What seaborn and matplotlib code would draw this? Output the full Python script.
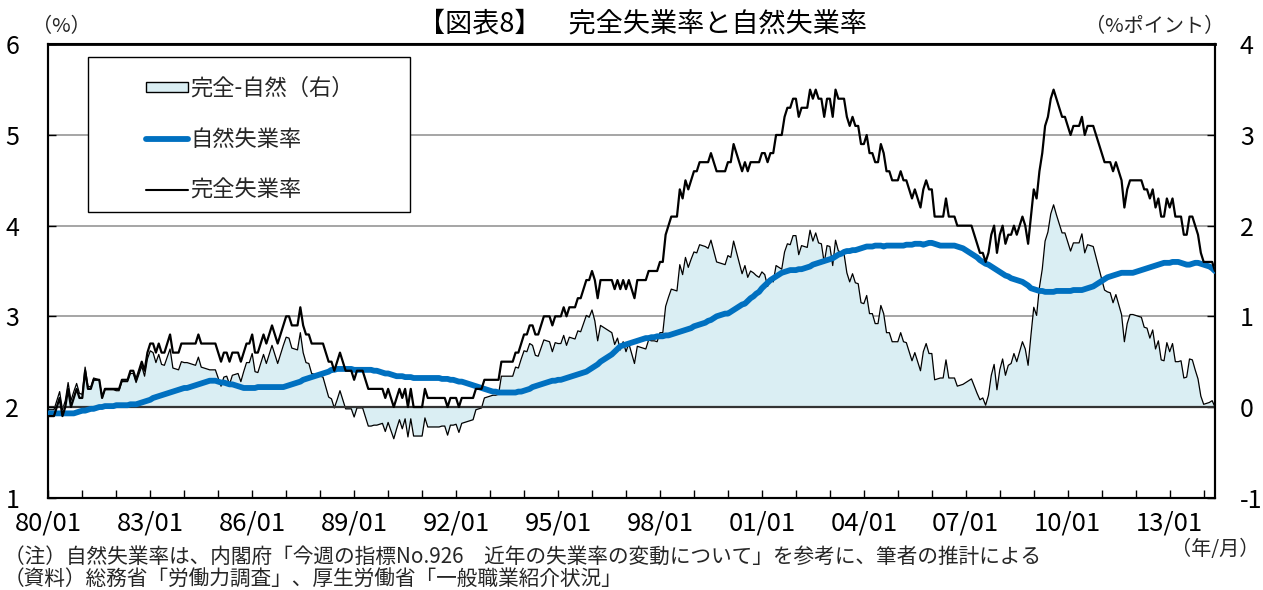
import numpy as np
import pandas as pd
import matplotlib
matplotlib.use("Agg")
import matplotlib.pyplot as plt
import seaborn as sns
from matplotlib.patches import Patch, Rectangle
from matplotlib.lines import Line2D

# ---------------- data (monthly, 1980/01 - 2014/05) ----------------
unemp_1980s = [
    1.9, 1.9, 1.9, 2.0, 2.1, 1.9, 2.0, 2.2, 2.0, 2.1, 2.2, 2.1,   # 1980
    2.1, 2.4, 2.2, 2.2, 2.3, 2.3, 2.3, 2.1, 2.2, 2.2, 2.2, 2.2,   # 1981
    2.2, 2.2, 2.3, 2.3, 2.3, 2.4, 2.4, 2.3, 2.4, 2.5, 2.4, 2.6,   # 1982
    2.7, 2.7, 2.6, 2.7, 2.6, 2.6, 2.7, 2.8, 2.6, 2.6, 2.6, 2.7,   # 1983
    2.7, 2.7, 2.7, 2.7, 2.7, 2.8, 2.7, 2.7, 2.7, 2.7, 2.7, 2.7,   # 1984
    2.6, 2.5, 2.6, 2.6, 2.5, 2.6, 2.6, 2.6, 2.5, 2.6, 2.7, 2.7,   # 1985
    2.8, 2.6, 2.6, 2.7, 2.8, 2.7, 2.8, 2.9, 2.8, 2.7, 2.8, 2.9,   # 1986
    3.0, 3.0, 2.9, 2.9, 2.9, 3.1, 2.9, 2.8, 2.8, 2.7, 2.7, 2.7,   # 1987
    2.7, 2.7, 2.6, 2.5, 2.5, 2.4, 2.5, 2.6, 2.5, 2.4, 2.4, 2.4,   # 1988
    2.3, 2.4, 2.4, 2.4, 2.3, 2.2, 2.2, 2.2, 2.2, 2.2, 2.2, 2.1,   # 1989
]
unemp_1990s = [
    2.2, 2.1, 2.0, 2.1, 2.2, 2.1, 2.2, 2.0, 2.2, 2.0, 2.0, 2.0,   # 1990
    2.0, 2.2, 2.1, 2.1, 2.1, 2.1, 2.1, 2.1, 2.1, 2.0, 2.1, 2.1,   # 1991
    2.1, 2.0, 2.1, 2.1, 2.1, 2.1, 2.1, 2.2, 2.2, 2.2, 2.3, 2.3,   # 1992
    2.3, 2.3, 2.3, 2.3, 2.5, 2.5, 2.5, 2.5, 2.5, 2.6, 2.6, 2.7,   # 1993
    2.8, 2.8, 2.9, 2.9, 2.8, 2.8, 2.9, 3.0, 3.0, 3.0, 2.9, 3.0,   # 1994
    3.0, 3.0, 3.1, 3.0, 3.1, 3.1, 3.1, 3.2, 3.2, 3.3, 3.4, 3.4,   # 1995
    3.5, 3.4, 3.2, 3.4, 3.4, 3.4, 3.4, 3.4, 3.3, 3.4, 3.3, 3.4,   # 1996
    3.3, 3.4, 3.3, 3.2, 3.4, 3.4, 3.4, 3.4, 3.5, 3.5, 3.5, 3.5,   # 1997
    3.6, 3.6, 3.9, 4.0, 4.1, 4.1, 4.1, 4.4, 4.3, 4.5, 4.4, 4.5,   # 1998
    4.6, 4.6, 4.7, 4.7, 4.7, 4.7, 4.8, 4.7, 4.6, 4.6, 4.6, 4.6,   # 1999
]
unemp_2000s = [
    4.7, 4.7, 4.9, 4.8, 4.7, 4.6, 4.7, 4.6, 4.7, 4.7, 4.7, 4.7,   # 2000
    4.8, 4.8, 4.7, 4.8, 4.8, 5.0, 5.0, 5.0, 5.2, 5.3, 5.3, 5.4,   # 2001
    5.4, 5.2, 5.3, 5.3, 5.3, 5.5, 5.4, 5.5, 5.4, 5.4, 5.2, 5.4,   # 2002
    5.4, 5.2, 5.5, 5.4, 5.4, 5.4, 5.2, 5.1, 5.2, 5.1, 5.1, 4.9,   # 2003
    4.9, 5.0, 4.8, 4.8, 4.7, 4.7, 4.9, 4.8, 4.6, 4.6, 4.5, 4.5,   # 2004
    4.5, 4.6, 4.5, 4.5, 4.4, 4.3, 4.4, 4.3, 4.2, 4.4, 4.5, 4.4,   # 2005
    4.4, 4.1, 4.1, 4.1, 4.1, 4.3, 4.1, 4.1, 4.1, 4.0, 4.0, 4.0,   # 2006
    4.0, 4.0, 4.0, 3.9, 3.8, 3.7, 3.7, 3.6, 3.7, 3.9, 4.0, 3.7,   # 2007
    3.9, 4.0, 3.8, 3.9, 3.9, 4.0, 3.9, 4.0, 4.1, 4.0, 3.8, 4.1,   # 2008
    4.4, 4.3, 4.6, 4.8, 5.1, 5.2, 5.4, 5.5, 5.4, 5.3, 5.2, 5.2,   # 2009
]
unemp_2010s = [
    5.1, 5.0, 5.1, 5.1, 5.1, 5.2, 5.0, 5.1, 5.1, 5.1, 5.0, 4.9,   # 2010
    4.8, 4.7, 4.7, 4.7, 4.6, 4.7, 4.6, 4.5, 4.2, 4.4, 4.5, 4.5,   # 2011
    4.5, 4.5, 4.5, 4.4, 4.4, 4.3, 4.4, 4.2, 4.3, 4.1, 4.1, 4.3,   # 2012
    4.2, 4.3, 4.1, 4.1, 4.1, 3.9, 3.9, 4.1, 4.1, 4.0, 3.9, 3.7,   # 2013
    3.6, 3.6, 3.6, 3.6, 3.5,                                      # 2014
]

natural_1980s = [
    1.93, 1.93, 1.93, 1.93, 1.93, 1.93, 1.93, 1.93, 1.93, 1.93, 1.94, 1.95,
    1.96, 1.96, 1.97, 1.98, 1.98, 1.99, 2.00, 2.00, 2.01, 2.01, 2.01, 2.01,
    2.02, 2.02, 2.02, 2.02, 2.02, 2.03, 2.03, 2.03, 2.04, 2.05, 2.06, 2.07,
    2.08, 2.10, 2.11, 2.12, 2.13, 2.14, 2.15, 2.16, 2.17, 2.18, 2.19, 2.20,
    2.21, 2.21, 2.22, 2.23, 2.24, 2.25, 2.26, 2.27, 2.28, 2.29, 2.29, 2.29,
    2.28, 2.27, 2.27, 2.26, 2.25, 2.25, 2.24, 2.23, 2.22, 2.21, 2.21, 2.21,
    2.21, 2.21, 2.22, 2.22, 2.22, 2.22, 2.22, 2.22, 2.22, 2.22, 2.22, 2.22,
    2.23, 2.24, 2.25, 2.26, 2.27, 2.28, 2.30, 2.31, 2.32, 2.33, 2.34, 2.35,
    2.36, 2.37, 2.38, 2.39, 2.41, 2.41, 2.42, 2.42, 2.42, 2.42, 2.42, 2.42,
    2.41, 2.41, 2.41, 2.41, 2.41, 2.41, 2.41, 2.40, 2.40, 2.39, 2.38, 2.37,
]
natural_1990s = [
    2.37, 2.36, 2.35, 2.34, 2.34, 2.34, 2.33, 2.33, 2.33, 2.32, 2.32, 2.32,
    2.32, 2.32, 2.32, 2.32, 2.32, 2.32, 2.32, 2.31, 2.31, 2.31, 2.30, 2.30,
    2.29, 2.28, 2.28, 2.27, 2.26, 2.25, 2.24, 2.23, 2.22, 2.21, 2.20, 2.19,
    2.18, 2.17, 2.17, 2.16, 2.16, 2.16, 2.16, 2.16, 2.16, 2.16, 2.17, 2.17,
    2.18, 2.19, 2.20, 2.22, 2.23, 2.24, 2.25, 2.26, 2.27, 2.28, 2.29, 2.29,
    2.30, 2.30, 2.31, 2.32, 2.33, 2.34, 2.35, 2.36, 2.37, 2.38, 2.39, 2.41,
    2.43, 2.45, 2.47, 2.50, 2.52, 2.54, 2.56, 2.58, 2.61, 2.64, 2.67, 2.68,
    2.69, 2.70, 2.71, 2.72, 2.73, 2.74, 2.75, 2.76, 2.76, 2.77, 2.77, 2.78,
    2.78, 2.78, 2.79, 2.79, 2.80, 2.81, 2.82, 2.83, 2.84, 2.85, 2.86, 2.87,
    2.89, 2.90, 2.91, 2.92, 2.93, 2.95, 2.96, 2.98, 3.00, 3.01, 3.02, 3.03,
]
natural_2000s = [
    3.03, 3.05, 3.07, 3.09, 3.11, 3.13, 3.14, 3.17, 3.20, 3.22, 3.25, 3.27,
    3.31, 3.34, 3.37, 3.40, 3.42, 3.44, 3.46, 3.48, 3.49, 3.50, 3.51, 3.51,
    3.51, 3.52, 3.52, 3.53, 3.54, 3.55, 3.57, 3.58, 3.59, 3.60, 3.61, 3.62,
    3.63, 3.64, 3.66, 3.68, 3.69, 3.71, 3.72, 3.72, 3.73, 3.73, 3.74, 3.75,
    3.76, 3.77, 3.77, 3.77, 3.78, 3.78, 3.78, 3.77, 3.78, 3.78, 3.78, 3.78,
    3.78, 3.78, 3.78, 3.79, 3.79, 3.79, 3.80, 3.80, 3.80, 3.79, 3.80, 3.81,
    3.81, 3.80, 3.79, 3.78, 3.78, 3.78, 3.78, 3.78, 3.78, 3.77, 3.76, 3.75,
    3.73, 3.71, 3.69, 3.67, 3.65, 3.62, 3.60, 3.58, 3.57, 3.55, 3.53, 3.51,
    3.49, 3.47, 3.45, 3.44, 3.42, 3.41, 3.40, 3.39, 3.38, 3.36, 3.34, 3.31,
    3.30, 3.29, 3.28, 3.28, 3.27, 3.27, 3.27, 3.27, 3.28, 3.28, 3.28, 3.28,
]
natural_2010s = [
    3.28, 3.28, 3.29, 3.29, 3.29, 3.29, 3.30, 3.31, 3.32, 3.33, 3.35, 3.37,
    3.39, 3.41, 3.43, 3.44, 3.45, 3.46, 3.47, 3.48, 3.48, 3.48, 3.48, 3.48,
    3.49, 3.50, 3.51, 3.52, 3.53, 3.54, 3.55, 3.56, 3.57, 3.58, 3.59, 3.59,
    3.59, 3.60, 3.60, 3.60, 3.59, 3.58, 3.57, 3.57, 3.58, 3.59, 3.59, 3.58,
    3.57, 3.56, 3.55, 3.53, 3.50,
]

x_tick_labels = ["80/01", "83/01", "86/01", "89/01", "92/01", "95/01",
                 "98/01", "01/01", "04/01", "07/01", "10/01", "13/01"]
left_ticks = [1, 2, 3, 4, 5, 6]
right_ticks = [-1, 0, 1, 2, 3, 4]
label_gap = "完全-自然（右）"
label_nat = "自然失業率"
label_unemp = "完全失業率"

# ---------------- build frame ----------------
U = unemp_1980s + unemp_1990s + unemp_2000s + unemp_2010s
N = natural_1980s + natural_1990s + natural_2000s + natural_2010s
df = pd.DataFrame({"month": np.arange(len(U)), "unemp": U, "natural": N})
df["gap"] = df["unemp"] - df["natural"]

# ---------------- style ----------------
sns.set_theme(style="white")
plt.rcParams["font.family"] = ["Noto Sans CJK JP", "DejaVu Sans"]

W, H = 1263, 590
fig = plt.figure(figsize=(W / 100, H / 100), dpi=100)
L, R, T, B = 48.3, 1215, 44.3, 497.7
ax = fig.add_axes([L / W, 1 - B / H, (R - L) / W, (B - T) / H])
ax2 = ax.twinx()
ax.set_zorder(ax2.get_zorder() + 1)
ax.patch.set_visible(False)
ax2.patch.set_visible(True)
ax2.patch.set_facecolor("white")

# right axis: gridlines, gap area, gap outline
for v in [1, 2, 3]:
    ax2.axhline(v, color="#9E9E9E", lw=1.3, zorder=0)
ax2.fill_between(df["month"], 0, df["gap"], color="#DAEEF3", lw=0, zorder=1)
sns.lineplot(data=df, x="month", y="gap", ax=ax2, color="black", lw=0.9,
             zorder=2, estimator=None)
ax2.axhline(0, color="#333333", lw=1.6, zorder=3)

# left axis: natural rate and unemployment rate
sns.lineplot(data=df, x="month", y="natural", ax=ax, color="#0070C0", lw=4.2,
             estimator=None, zorder=3)
sns.lineplot(data=df, x="month", y="unemp", ax=ax, color="black", lw=1.6,
             estimator=None, zorder=4)

n = len(df)
ax.set_xlim(0, n - 1)
ax.set_ylim(1, 6)
ax2.set_ylim(-1, 4)
for a in (ax, ax2):
    a.set_xlabel("")
    a.set_ylabel("")

ax.set_yticks(left_ticks)
ax.set_yticklabels([str(t) for t in left_ticks])
ax2.set_yticks(right_ticks)
ax2.set_yticklabels([str(t) for t in right_ticks])

year_ticks = list(range(0, n, 12))
ax.set_xticks(year_ticks)
lbls = []
k = 0
for i, t in enumerate(year_ticks):
    if i % 3 == 0 and k < len(x_tick_labels):
        lbls.append(x_tick_labels[k]); k += 1
    else:
        lbls.append("")
ax.set_xticklabels(lbls)

ax.tick_params(axis="x", direction="in", length=6, width=1, color="black",
               bottom=True, labelsize=18.5, pad=9, labelcolor="black")
ax.tick_params(axis="y", direction="in", length=6, width=1, color="black",
               left=True, labelsize=18, pad=21, labelcolor="black")
ax2.tick_params(axis="y", direction="in", length=6, width=1, color="black",
                right=True, labelsize=18, pad=18, labelcolor="black")

for a in (ax, ax2):
    for s in a.spines.values():
        s.set_color("black")
        s.set_linewidth(1.5)
ax.spines["top"].set_linewidth(2)

# titles & notes
fig.text(642 / W, 1 - 24 / H, "【図表8】　完全失業率と自然失業率", ha="center",
         va="center", fontsize=19.5, color="black")
fig.text(61 / W, 1 - 27 / H, "（%）", ha="center", va="center", fontsize=14.5)
fig.text(1155 / W, 1 - 27 / H, "（%ポイント）", ha="center", va="center", fontsize=14.5)
fig.text(1215 / W, 1 - 550 / H, "（年/月）", ha="center", va="center", fontsize=14.5)
fig.text(4 / W, 1 - 557 / H,
         "（注）自然失業率は、内閣府「今週の指標No.926　近年の失業率の変動について」を参考に、筆者の推計による",
         ha="left", va="center", fontsize=14.9)
fig.text(4 / W, 1 - 579 / H, "（資料）総務省「労働力調査」、厚生労働省「一般職業紹介状況」",
         ha="left", va="center", fontsize=14.9)

# legend with white box
frame = Rectangle((88 / W, 1 - 212 / H), (410 - 88) / W, (212 - 57) / H,
                  transform=fig.transFigure, facecolor="white", edgecolor="black",
                  lw=1.0, zorder=5)
fig.patches.append(frame)
handles = [
    Patch(facecolor="#DAEEF3", edgecolor="black", lw=1.0),
    Line2D([], [], color="#0070C0", lw=4.2, solid_capstyle="round"),
    Line2D([], [], color="black", lw=1.5),
]
leg = fig.legend(handles, [label_gap, label_nat, label_unemp], loc="upper left",
                 bbox_to_anchor=(146 / W, 1 - 77 / H), bbox_transform=fig.transFigure,
                 frameon=False, fontsize=16, handlelength=1.9, handleheight=0.35,
                 handletextpad=0.1, labelspacing=1.25, borderpad=0, borderaxespad=0)
leg.set_zorder(6)

fig.savefig("out.png", dpi=100)
